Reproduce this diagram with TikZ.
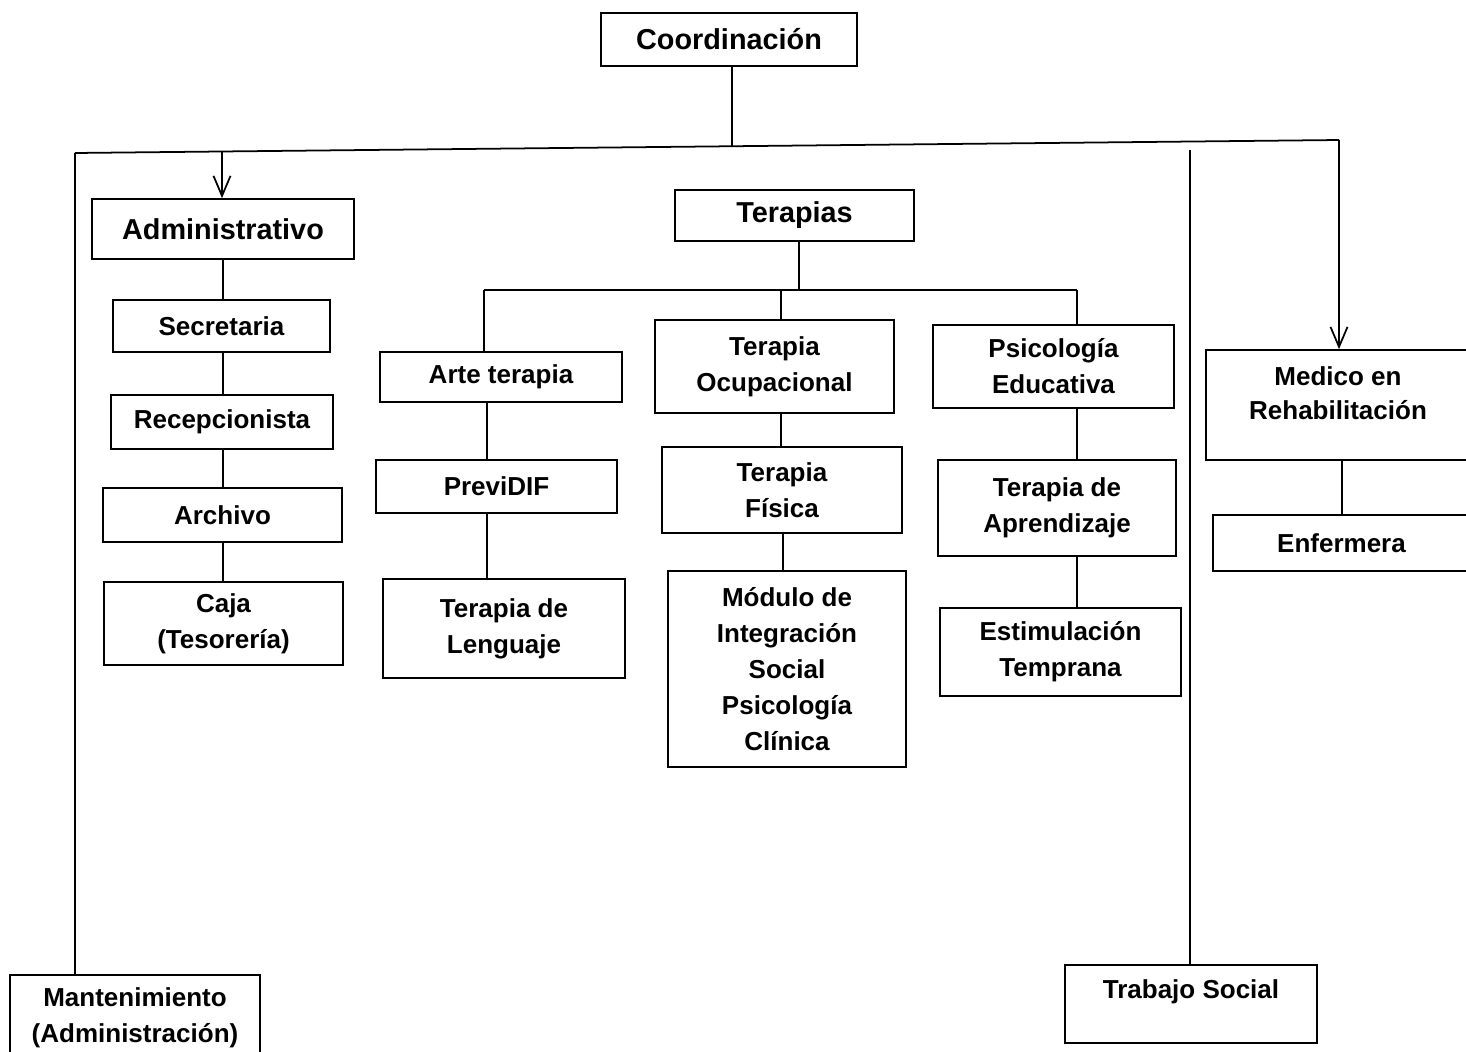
\documentclass[tikz,border=0pt]{standalone}
\usepackage{fontspec}
\setmainfont{Liberation Sans}
\usetikzlibrary{arrows.meta}

\begin{document}
\begin{tikzpicture}[x=0.02cm,y=-0.02cm,line width=1pt,
    caja/.style={draw, line width=1pt, inner sep=0pt, align=center,
        font=\bfseries\fontsize{14.8}{20.4}\selectfont},
    grande/.style={caja, font=\bfseries\fontsize{16.4}{20}\selectfont},
    texto/.style={align=center, inner sep=0pt, font=\bfseries\fontsize{14.8}{19.4}\selectfont},
    flecha/.style={-{Straight Barb[length=0.4cm,width=0.34cm]}}]
    \useasboundingbox (0,0) rectangle (1466,1051);

    % top
    \node[grande, minimum width=5.12cm, minimum height=1.06cm] (coord) at (729,39.5) {Coordinación};
    \coordinate (izq) at (75,153);
    \coordinate (der) at (1339,140);
    \coordinate (cen) at (732,146);
    \coordinate (badm) at (222,151.5);
    \coordinate (bts) at (1190,150);
    \coordinate (xadm) at (223,0);

    % administrativo
    \node[grande, minimum width=5.24cm, minimum height=1.2cm] (adm) at (223,229) {Administrativo};
    \node[caja, minimum width=4.34cm, minimum height=1.04cm] (sec) at (221.5,326) {Secretaria};
    \node[caja, minimum width=4.44cm, minimum height=1.08cm] (rec) at (222,422) {Recepcionista};
    \node[caja, minimum width=4.78cm, minimum height=1.08cm] (arch) at (222.5,515) {Archivo};
    \node[caja, minimum width=4.78cm, minimum height=1.66cm] (caja) at (223.5,623.5) {Caja\\(Tesorería)};

    % terapias
    \node[grande, minimum width=4.78cm, minimum height=1.02cm] (ter) at (794.5,215.5) {Terapias};
    \coordinate (tl) at (484,290);
    \coordinate (tm) at (781,290);
    \coordinate (tr) at (1077,290);
    \coordinate (xter) at (799,0);
    \node[caja, minimum width=4.84cm, minimum height=1.0cm] (arte) at (501,377) {Arte terapia};
    \node[caja, minimum width=4.82cm, minimum height=1.06cm] (previ) at (496.5,486.5) {PreviDIF};
    \node[caja, minimum width=4.84cm, minimum height=1.98cm] (leng) at (504,628.5) {Terapia de\\Lenguaje};
    \node[caja, minimum width=4.78cm, minimum height=1.86cm] (ocup) at (774.5,366.5) {Terapia\\Ocupacional};
    \node[caja, minimum width=4.8cm, minimum height=1.72cm] (fis) at (782,490) {Terapia\\Física};
    \node[caja, minimum width=4.76cm, minimum height=3.92cm] (mod) at (787,669)
        {Módulo de\\Integración\\Social\\Psicología\\Clínica};
    \node[caja, minimum width=4.82cm, minimum height=1.66cm] (psi) at (1053.5,366.5) {Psicología\\Educativa};
    \node[caja, minimum width=4.76cm, minimum height=1.92cm] (apr) at (1057,508) {Terapia de\\Aprendizaje};
    \node[caja, minimum width=4.82cm, minimum height=1.76cm] (est) at (1060.5,652) {Estimulación\\Temprana};

    % medico
    \node[caja, minimum width=5.28cm, minimum height=2.2cm,
        label={[texto, yshift=0.24cm]center:Medico en\\Rehabilitación}] (med) at (1338,405) {};
    \node[caja, minimum width=5.14cm, minimum height=1.12cm] (enf) at (1341.5,543) {Enfermera};

    % bottom
    \node[caja, minimum width=5.0cm, minimum height=1.7cm] (mant) at (135,1017.5) {Mantenimiento\\(Administración)};
    \node[caja, text height=0.66cm, text depth=0.9cm, minimum width=5.04cm] (trab) at (1191,1004) {Trabajo Social};

    % connectors
    \draw (coord.south -| cen) -- (cen);
    \draw (izq) -- (der);
    \draw[flecha] (badm) -- (badm |- adm.north);
    \draw[flecha] (der) -- (der |- med.north);
    \draw (izq) -- (izq |- mant.north);
    \draw (bts) -- (bts |- trab.north);

    \draw (adm.south -| xadm) -- (sec.north -| xadm);
    \draw (sec.south -| xadm) -- (rec.north -| xadm);
    \draw (rec.south -| xadm) -- (arch.north -| xadm);
    \draw (arch.south -| xadm) -- (caja.north -| xadm);

    \draw (ter.south -| xter) -- (tl -| xter);
    \draw (tl) -- (tr);
    \draw (tl) -- (tl |- arte.north);
    \draw (tm) -- (tm |- ocup.north);
    \draw (tr) -- (tr |- psi.north);
    \draw ([xshift=0.06cm]arte.south -| tl) -- ([xshift=0.06cm]previ.north -| tl);
    \draw ([xshift=0.06cm]previ.south -| tl) -- ([xshift=0.06cm]leng.north -| tl);
    \draw (ocup.south -| tm) -- (fis.north -| tm);
    \draw ([xshift=0.04cm]fis.south -| tm) -- ([xshift=0.04cm]mod.north -| tm);
    \draw (psi.south -| tr) -- (apr.north -| tr);
    \draw (apr.south -| tr) -- (est.north -| tr);
    \draw ([xshift=0.06cm]med.south -| der) -- ([xshift=0.06cm]enf.north -| der);
\end{tikzpicture}
\end{document}
